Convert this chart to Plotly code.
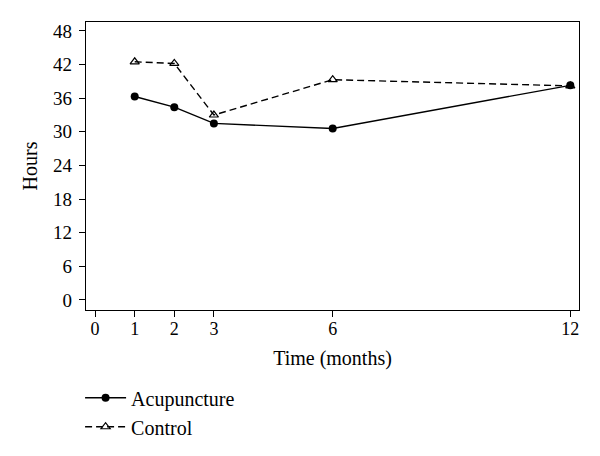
import plotly.graph_objects as go

months = [1, 2, 3, 6, 12]
acupuncture = [36.3, 34.4, 31.5, 30.6, 38.3]
control = [42.5, 42.2, 33.0, 39.3, 38.2]
x_ticks = [0, 1, 2, 3, 6, 12]
y_ticks = [0, 6, 12, 18, 24, 30, 36, 42, 48]

FONT = "Liberation Serif"

fig = go.Figure()
fig.add_trace(go.Scatter(
    x=months, y=acupuncture, name="Acupuncture", mode="lines+markers",
    line=dict(color="black", width=1.4),
    marker=dict(symbol="circle", size=8, color="black"),
))
fig.add_trace(go.Scatter(
    x=months, y=control, name="Control", mode="lines+markers",
    line=dict(color="black", width=1.4, dash="7px,4px"),
    marker=dict(symbol="triangle-up-open", size=8, color="black",
                line=dict(width=1.2, color="black")),
))

fig.update_layout(
    width=600, height=456,
    margin=dict(l=78, r=29, t=14, b=154),
    paper_bgcolor="white", plot_bgcolor="white",
    font=dict(family=FONT, size=18, color="black"),
    showlegend=True,
    legend=dict(x=-0.012, y=-0.237, xanchor="left", yanchor="top",
                orientation="v", font=dict(family=FONT, size=20),
                bgcolor="rgba(0,0,0,0)", tracegroupgap=0, itemwidth=41),
)
fig.update_xaxes(
    range=[-0.23, 12.22], tickvals=x_ticks, ticktext=[str(v) for v in x_ticks],
    ticks="outside", ticklen=6, tickcolor="black", tickwidth=1,
    ticklabelstandoff=-4,
    showline=True, linecolor="black", linewidth=1.2, mirror=True,
    showgrid=False, zeroline=False,
    title=dict(text="Time (months)", font=dict(family=FONT, size=20), standoff=13),
)
fig.update_yaxes(
    range=[-1.8, 49.6], tickvals=y_ticks, ticktext=[str(v) for v in y_ticks],
    ticks="outside", ticklen=6, tickcolor="black", tickwidth=1,
    ticklabelstandoff=3, tickfont=dict(size=19),
    showline=True, linecolor="black", linewidth=1.2, mirror=True,
    showgrid=False, zeroline=False,
    title=dict(text="Hours", font=dict(family=FONT, size=20), standoff=10),
)

fig.write_html("out.html")
